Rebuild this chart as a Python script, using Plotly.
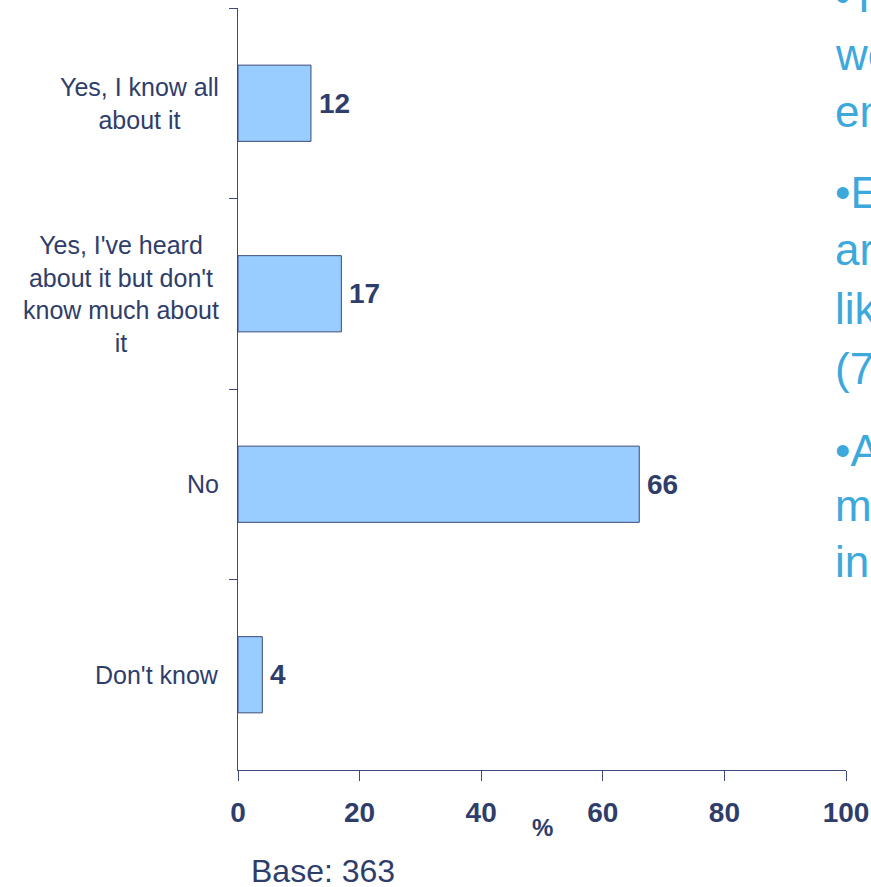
import plotly.graph_objects as go

categories = ["Yes, I know all<br>about it",
              "Yes, I've heard<br>about it but don't<br>know much about<br>it",
              "No",
              "Don't know"]
values = [12, 17, 66, 4]
x_ticks = [0, 20, 40, 60, 80, 100]
base_text = "Base: 363"
side_lines = ["•T", "we", "en", "•E", "ar", "lik", "(7", "•A", "m", "in"]
side_y_px = [-3, 54, 111, 192, 250, 308, 368, 450, 505, 561]

NAVY = "#2F3D6B"
FONT = "Liberation Sans, Arial, sans-serif"
W, H = 871, 887
L, R, T, B = 238, 25, 8, 117
PW, PH = W - L - R, H - T - B

fig = go.Figure()
fig.add_trace(go.Bar(
    y=categories, x=values, orientation="h", width=0.4,
    marker=dict(color="#99CCFF", line=dict(color="#3D4A7A", width=1)),
    hoverinfo="skip", showlegend=False,
))

annotations = []
for c, v in zip(categories, values):
    annotations.append(dict(x=v, y=c, xref="x", yref="y", text=f"<b>{v}</b>",
                            showarrow=False, xanchor="left", yanchor="middle", xshift=6,
                            font=dict(family=FONT, size=28, color=NAVY)))
    annotations.append(dict(x=0, y=c, xref="paper", yref="y", text=c,
                            showarrow=False, xanchor="right", yanchor="middle", xshift=-17,
                            align="center", font=dict(family=FONT, size=25, color=NAVY)))

annotations.append(dict(x=50, y=(T + PH - 827) / PH, xref="x", yref="paper",
                        text="<b>%</b>", showarrow=False, xanchor="center", yanchor="middle",
                        font=dict(family=FONT, size=24, color=NAVY)))
annotations.append(dict(x=(249 - L) / PW, y=(T + PH - 871) / PH, xref="paper", yref="paper",
                        text=base_text, showarrow=False, xanchor="left", yanchor="middle",
                        font=dict(family=FONT, size=32, color=NAVY)))
for txt, ypx in zip(side_lines, side_y_px):
    annotations.append(dict(x=(835 - L) / PW, y=(T + PH - ypx) / PH, xref="paper", yref="paper",
                            text=txt, showarrow=False, xanchor="left", yanchor="middle", xshift=-2,
                            font=dict(family=FONT, size=44, color="#3CA8DC")))

fig.update_layout(
    width=W, height=H,
    margin=dict(l=L, r=R, t=T, b=B, pad=0, autoexpand=False),
    paper_bgcolor="white", plot_bgcolor="white",
    bargap=0.6,
    annotations=annotations,
    xaxis=dict(range=[0, 100], tickvals=x_ticks, ticktext=[f"<b>{t}</b>" for t in x_ticks],
               showgrid=False, zeroline=False, showline=True, linecolor="#3D4A7A", linewidth=1,
               ticks="outside", ticklen=10, tickcolor="#3D4A7A",
               ticklabelstandoff=7, automargin=False, ticklabeloverflow="allow",
               tickfont=dict(family=FONT, size=28, color=NAVY), fixedrange=True),
    yaxis=dict(categoryorder="array", categoryarray=categories, autorange="reversed",
               showgrid=False, zeroline=False, showline=True, linecolor="#3D4A7A", linewidth=1,
               ticks="outside", ticklen=8, tickcolor="#3D4A7A", tickson="boundaries",
               automargin=False, showticklabels=False, fixedrange=True),
)

fig.write_html("out.html")
